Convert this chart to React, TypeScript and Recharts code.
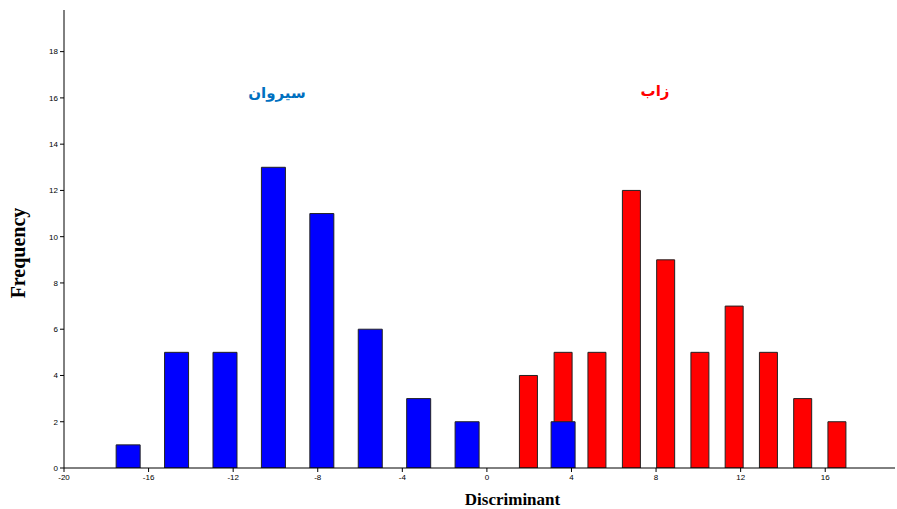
import { ComposedChart, Bar, XAxis, YAxis, Label } from 'recharts'

document.body.style.margin = '0'

// Sirwan (blue) bins: centre on the discriminant axis and frequency
const sirwanX = [-16.97, -14.68, -12.39, -10.1, -7.81, -5.52, -3.23, -0.94, 3.6]
const sirwanFreq = [1, 5, 5, 13, 11, 6, 3, 2, 2]

// Zab (red) bins
const zabX = [1.96, 3.6, 5.2, 6.83, 8.45, 10.07, 11.69, 13.31, 14.93, 16.55]
const zabFreq = [4, 5, 5, 12, 9, 5, 7, 5, 3, 2]

const xTicks = [-20, -16, -12, -8, -4, 0, 4, 8, 12, 16]
const yTicks = [0, 2, 4, 6, 8, 10, 12, 14, 16, 18]

// one row per bin position, both groups can share a row
const rows = new Map<number, { x: number; zab?: number; sirwan?: number }>()
zabX.forEach((x, i) => rows.set(x, { ...(rows.get(x) ?? { x }), zab: zabFreq[i] }))
sirwanX.forEach((x, i) => rows.set(x, { ...(rows.get(x) ?? { x }), sirwan: sirwanFreq[i] }))
const data = [...rows.values()].sort((a, b) => a.x - b.x)

const tickStyle = { fontSize: 8, fill: '#000', fontFamily: '"Liberation Sans", Arial, sans-serif' }
const titleFont = '"Liberation Serif", "Times New Roman", serif'

const groupLabel = {
  position: 'absolute' as const,
  width: 100,
  textAlign: 'center' as const,
  fontFamily: '"DejaVu Sans", sans-serif',
  fontWeight: 'bold' as const,
  fontSize: 15,
  direction: 'rtl' as const,
}

const FrequencyLabel = () => (
  <text
    x={18}
    y={253}
    transform="rotate(-90, 18, 253)"
    textAnchor="middle"
    dominantBaseline="central"
    style={{ fontFamily: titleFont, fontWeight: 'bold', fontSize: 20, fill: '#000' }}
  >
    Frequency
  </text>
)

export default function App() {
  return (
    <div style={{ position: 'relative', width: 897, height: 509, background: '#fff' }}>
      <ComposedChart
        width={897}
        height={509}
        data={data}
        margin={{ top: 10, right: 2, bottom: 0, left: 0 }}
      >
        <XAxis
          xAxisId="main"
          dataKey="x"
          type="number"
          domain={[-20, 19.3]}
          ticks={xTicks}
          allowDataOverflow
          tick={tickStyle}
          tickSize={4}
          axisLine={{ stroke: '#000' }}
          tickLine={{ stroke: '#000' }}
          height={41}
        >
          <Label
            value="Discriminant"
            position="insideBottom"
            dx={33}
            offset={4}
            style={{ fontFamily: titleFont, fontWeight: 'bold', fontSize: 17, fill: '#000' }}
          />
        </XAxis>
        <XAxis xAxisId="alt" dataKey="x" type="number" domain={[-20, 19.3]} allowDataOverflow hide height={0} />
        <YAxis
          domain={[0, 19.8]}
          ticks={yTicks}
          allowDataOverflow
          tick={tickStyle}
          tickSize={4}
          axisLine={{ stroke: '#000' }}
          tickLine={{ stroke: '#000' }}
          width={64}
        >
          <Label content={FrequencyLabel} />
        </YAxis>
        <Bar
          xAxisId="alt"
          dataKey="zab"
          fill="#ff0000"
          stroke="#222"
          strokeWidth={1}
          barSize={18}
          isAnimationActive={false}
        />
        <Bar
          xAxisId="main"
          dataKey="sirwan"
          fill="#0000ff"
          stroke="#222"
          strokeWidth={1}
          barSize={24}
          isAnimationActive={false}
        />
      </ComposedChart>
      <div style={{ ...groupLabel, left: 227, top: 84, color: '#0070c0' }}>سیروان</div>
      <div style={{ ...groupLabel, left: 605, top: 82, color: '#ff0000' }}>زاب</div>
    </div>
  )
}
